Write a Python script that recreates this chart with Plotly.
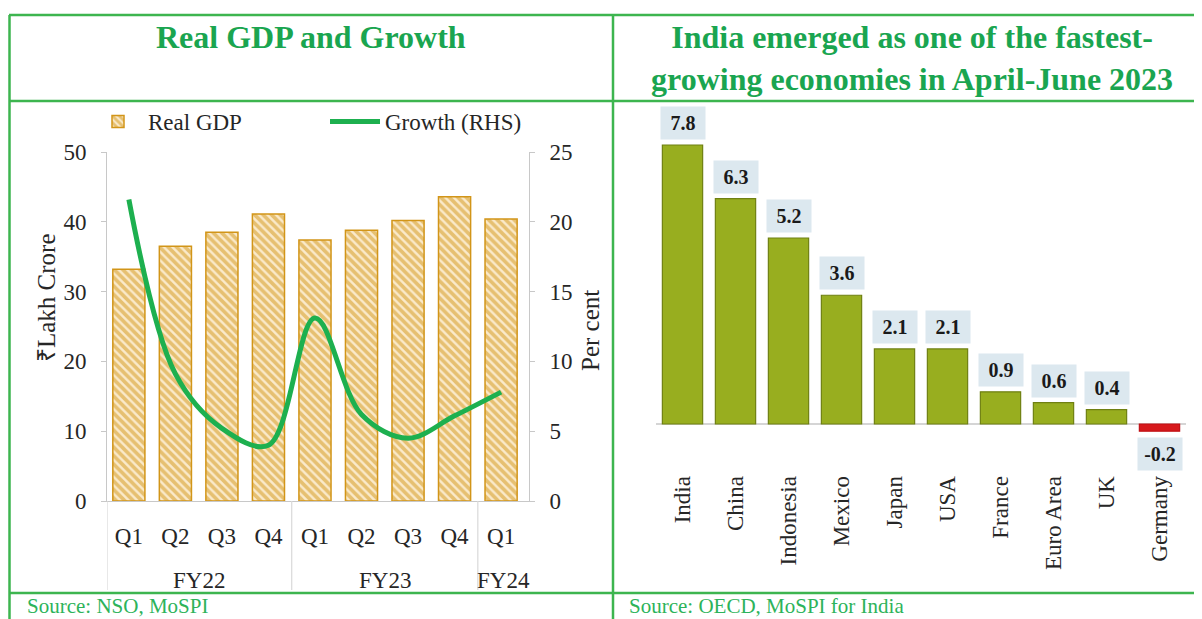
import plotly.graph_objects as go

# ---------------- data ----------------
quarters = ["Q1", "Q2", "Q3", "Q4", "Q1", "Q2", "Q3", "Q4", "Q1"]
fiscal_years = ["FY22", "FY23", "FY24"]
fy_centers = [1.5, 5.5, 8.05]          # category positions of the year labels
fy_dividers = [-0.47, 3.5, 7.5]         # boundaries between year groups
real_gdp = [33.2, 36.5, 38.5, 41.1, 37.4, 38.8, 40.2, 43.6, 40.4]   # ₹ lakh crore
growth = [21.6, 9.1, 5.2, 4.0, 13.1, 6.2, 4.5, 6.1, 7.8]            # per cent

countries = ["India", "China", "Indonesia", "Mexico", "Japan", "USA",
             "France", "Euro Area", "UK", "Germany"]
country_growth = [7.8, 6.3, 5.2, 3.6, 2.1, 2.1, 0.9, 0.6, 0.4, -0.2]

# ---------------- helpers ----------------
# the page body has an 8px margin, so the figure is placed at (8, 8)
OFF = 8
W, H = 1202 - OFF, 619 - OFF
def fx(px):
    return (px - OFF) / W
def fy(py):
    return 1 - (py - OFF) / H

FONT = "Liberation Serif"
GREEN_FRAME = "#3DB54F"
GREEN_TITLE = "#1AA550"
GOLD = "#D29518"
AXIS_GREY = "#C8C8C8"
TXT = "#262626"

xpos = list(range(len(quarters)))

fig = go.Figure()

fig.add_trace(go.Bar(
    x=xpos, y=real_gdp, name="Real GDP", xaxis="x", yaxis="y", width=0.69,
    marker=dict(color="#FAEACB", line=dict(color=GOLD, width=1.5),
                pattern=dict(shape="\\", fgcolor=GOLD, bgcolor="#FAEACB",
                             size=6, solidity=0.6)),
))
fig.add_trace(go.Scatter(
    x=xpos, y=growth, name="Growth (RHS)", xaxis="x", yaxis="y2",
    mode="lines", line=dict(color="#1DB04F", width=5, shape="spline", smoothing=1.0),
))

bar_colors = ["#D7191C" if v < 0 else "#98AE1F" for v in country_growth]
line_colors = ["#C01015" if v < 0 else "#6F8012" for v in country_growth]
fig.add_trace(go.Bar(
    x=countries, y=country_growth, xaxis="x3", yaxis="y3", width=0.76,
    showlegend=False,
    marker=dict(color=bar_colors, line=dict(color=line_colors, width=1.2)),
))

# ---------------- axes ----------------
tickfont = dict(family=FONT, size=23, color=TXT)
fig.update_layout(
    width=W, height=H,
    margin=dict(l=0, r=0, t=0, b=0, autoexpand=False),
    paper_bgcolor="white", plot_bgcolor="white",
    font=dict(family=FONT, color=TXT),
    showlegend=True,
    legend=dict(orientation="h", x=fx(88), y=fy(100), xanchor="left", yanchor="top",
                font=dict(family=FONT, size=23, color=TXT),
                itemwidth=50, entrywidth=172, bgcolor="rgba(0,0,0,0)"),
    xaxis=dict(domain=[fx(107), fx(529)], range=[-0.47, 8.6], anchor="y",
               tickmode="array", tickvals=xpos, ticktext=quarters,
               tickfont=tickfont, showline=True, linecolor=AXIS_GREY, linewidth=1,
               ticks="", showgrid=False, zeroline=False, ticklabelstandoff=14,
               fixedrange=True),
    yaxis=dict(domain=[fy(501), fy(152)], range=[0, 50], dtick=10, anchor="x",
               tickfont=tickfont, showline=True, linecolor=AXIS_GREY, linewidth=1,
               ticks="outside", ticklen=5, tickcolor=AXIS_GREY, showgrid=False,
               zeroline=False, ticklabelstandoff=10),
    yaxis2=dict(range=[0, 25], dtick=5, overlaying="y", side="right", anchor="x",
                tickfont=tickfont, showline=True, linecolor=AXIS_GREY, linewidth=1,
                ticks="outside", ticklen=5, tickcolor=AXIS_GREY, showgrid=False,
                zeroline=False, ticklabelstandoff=10),
    xaxis3=dict(domain=[fx(656), fx(1186)], range=[-0.5, 9.5], anchor="y3",
                tickangle=-90, tickfont=tickfont, showline=False, ticks="",
                showgrid=False, zeroline=False),
    yaxis3=dict(domain=[fy(470.5), fy(116.4)], range=[-1.3, 8.6], anchor="x3",
                showticklabels=False, showgrid=False, showline=False, ticks="",
                zeroline=True, zerolinecolor="#D5D5D5", zerolinewidth=1.5),
)

annotations = []
shapes = []

# titles
annotations.append(dict(text="<b>Real GDP and Growth</b>", xref="paper", yref="paper",
                        x=fx(311), y=fy(37), xanchor="center", yanchor="middle",
                        showarrow=False, font=dict(family=FONT, size=32, color=GREEN_TITLE)))
annotations.append(dict(text="<b>India emerged as one of the fastest-<br>growing economies in April-June 2023</b>",
                        xref="paper", yref="paper", x=fx(912), y=fy(57.5),
                        xanchor="center", yanchor="middle", showarrow=False,
                        font=dict(family=FONT, size=32, color=GREEN_TITLE)))
# axis titles
annotations.append(dict(text="₹Lakh Crore", xref="paper", yref="paper", x=fx(46), y=fy(298),
                        textangle=-90, showarrow=False, xanchor="center", yanchor="middle",
                        font=dict(family=FONT, size=25, color=TXT)))
annotations.append(dict(text="Per cent", xref="paper", yref="paper", x=fx(590), y=fy(331),
                        textangle=-90, showarrow=False, xanchor="center", yanchor="middle",
                        font=dict(family=FONT, size=25, color=TXT)))
# fiscal year labels
for lab, c in zip(fiscal_years, fy_centers):
    annotations.append(dict(text=lab, xref="x", yref="paper", x=c, y=fy(580),
                            showarrow=False, xanchor="center", yanchor="middle",
                            font=dict(family=FONT, size=23, color=TXT)))
for d in fy_dividers:
    shapes.append(dict(type="line", xref="x", yref="paper", x0=d, x1=d,
                       y0=fy(501), y1=fy(590), line=dict(color="#D9D9D9", width=1.2)))
# value labels on country bars
for c, v in zip(countries, country_growth):
    annotations.append(dict(text=f"<b>{v:.1f}</b>", xref="x3", yref="y3", x=c, y=v,
                            showarrow=False, xanchor="center",
                            yanchor="bottom" if v >= 0 else "top",
                            yshift=5 if v >= 0 else -6,
                            bgcolor="#DCE8EF", borderpad=5, width=34,
                            font=dict(family=FONT, size=20, color="#1A1A1A")))
# sources
annotations.append(dict(text="Source: NSO, MoSPI", xref="paper", yref="paper", x=fx(25), y=fy(606),
                        xanchor="left", yanchor="middle", showarrow=False,
                        font=dict(family=FONT, size=21, color="#2DB35A")))
annotations.append(dict(text="Source: OECD, MoSPI for India", xref="paper", yref="paper",
                        x=fx(627), y=fy(606), xanchor="left", yanchor="middle", showarrow=False,
                        font=dict(family=FONT, size=21, color="#2DB35A")))

# frame lines
frame = dict(color=GREEN_FRAME, width=2.5)
shapes += [
    dict(type="line", xref="paper", yref="paper", x0=fx(9), x1=1, y0=fy(15), y1=fy(15), line=frame),
    dict(type="line", xref="paper", yref="paper", x0=fx(9), x1=1, y0=fy(101), y1=fy(101), line=frame),
    dict(type="line", xref="paper", yref="paper", x0=fx(9), x1=1, y0=fy(593), y1=fy(593), line=frame),
    dict(type="line", xref="paper", yref="paper", x0=fx(9.5), x1=fx(9.5), y0=fy(15), y1=0, line=frame),
    dict(type="line", xref="paper", yref="paper", x0=fx(613), x1=fx(613), y0=fy(15), y1=0, line=frame),
]

fig.update_layout(annotations=annotations, shapes=shapes)
fig.write_html("out.html")
